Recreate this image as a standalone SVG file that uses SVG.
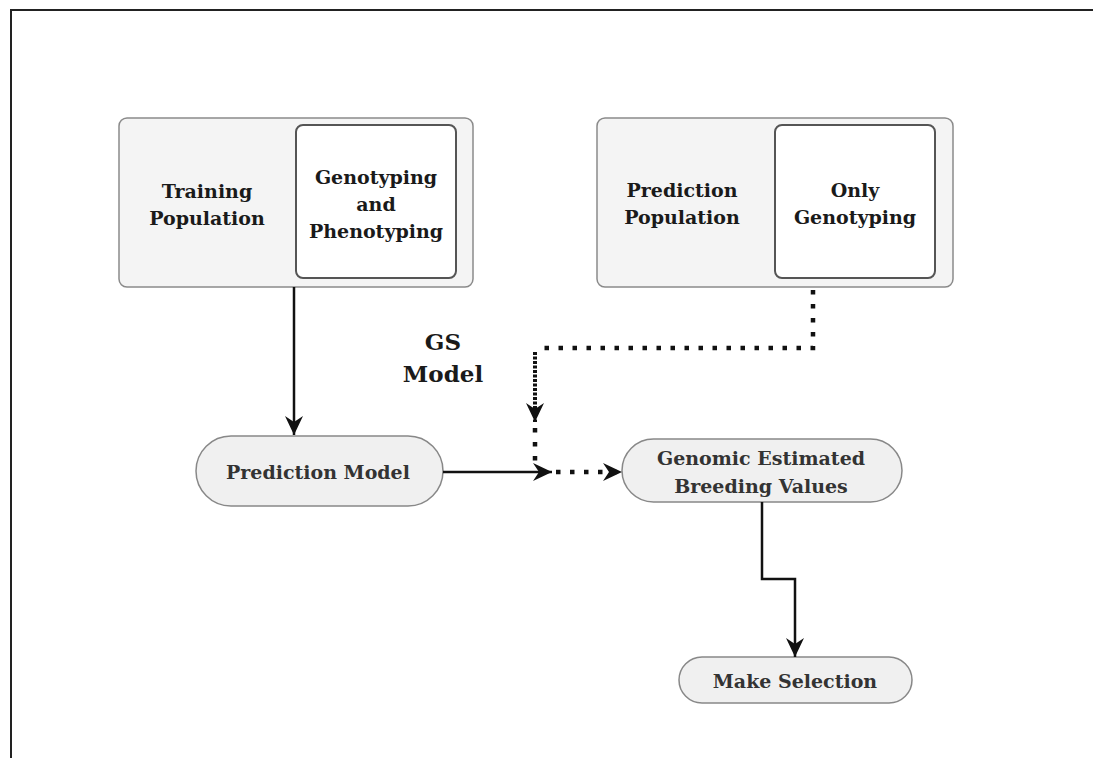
<svg xmlns="http://www.w3.org/2000/svg" width="1094" height="758" viewBox="0 0 1094 758">
<style>
.outer{fill:#f4f4f4;stroke:#8a8a8a;stroke-width:1.5}
.inner{fill:#ffffff;stroke:#555;stroke-width:2}
.pill{fill:#f0f0f0;stroke:#888;stroke-width:1.5}
.t{font-family:"DejaVu Serif","Liberation Serif",serif;font-weight:bold;font-size:19px;text-anchor:middle;fill:#1a1a1a}
.tp{fill:#333}
.gs{font-size:23px}
.solid{fill:none;stroke:#111;stroke-width:2.5}
.dot{fill:none;stroke:#111;stroke-width:4.5;stroke-dasharray:4.5 9.5}
.dense{fill:none;stroke:#111;stroke-width:4;stroke-dasharray:3 1.5}
</style>
<defs>
<marker id="arr" markerUnits="userSpaceOnUse" viewBox="0 0 19 18" refX="19" refY="9" markerWidth="19" markerHeight="18" orient="auto">
<path d="M0,0 L19,9 L0,18 L6,9 z" fill="#111"/>
</marker>
</defs>
<path d="M11,758 V10 H1093" fill="none" stroke="#222" stroke-width="2"/>
<g id="training">
<rect class="outer" x="119" y="118" width="354" height="169" rx="8"/>
<text class="t" x="207" y="198">Training</text>
<text class="t" x="207" y="225">Population</text>
</g>
<g id="geno-pheno">
<rect class="inner" x="296" y="125" width="160" height="153" rx="7"/>
<text class="t" x="376" y="184">Genotyping</text>
<text class="t" x="376" y="211">and</text>
<text class="t" x="376" y="238">Phenotyping</text>
</g>
<g id="prediction-pop">
<rect class="outer" x="597" y="118" width="356" height="169" rx="8"/>
<text class="t" x="682" y="197">Prediction</text>
<text class="t" x="682" y="224">Population</text>
</g>
<g id="only-geno">
<rect class="inner" x="775" y="125" width="160" height="153" rx="7"/>
<text class="t" x="855" y="197">Only</text>
<text class="t" x="855" y="224">Genotyping</text>
</g>
<g id="gs-model">
<text class="t gs" x="443" y="350">GS</text>
<text class="t gs" x="443" y="382">Model</text>
</g>
<g id="prediction-model">
<rect class="pill" x="196" y="436" width="247" height="70" rx="35"/>
<text class="t tp" x="318" y="479">Prediction Model</text>
</g>
<g id="gebv">
<rect class="pill" x="622" y="439" width="280" height="63" rx="31.5"/>
<text class="t tp" x="761" y="465">Genomic Estimated</text>
<text class="t tp" x="761" y="493">Breeding Values</text>
</g>
<g id="make-selection">
<rect class="pill" x="679" y="657" width="233" height="46" rx="23"/>
<text class="t tp" x="795" y="688">Make Selection</text>
</g>
<g id="connectors">
<path class="solid" d="M294,287 V435" marker-end="url(#arr)"/>
<path class="solid" d="M443,472 H552" marker-end="url(#arr)"/>
<path class="dot" d="M813,290 V348 H535"/>
<path class="dense" d="M535,352 V422" marker-end="url(#arr)"/>
<path class="dot" d="M535,428 V470"/>
<path class="dot" d="M556,472 H622" marker-end="url(#arr)"/>
<path class="solid" d="M762,502 V579 H795 V657" marker-end="url(#arr)"/>
</g>
</svg>
